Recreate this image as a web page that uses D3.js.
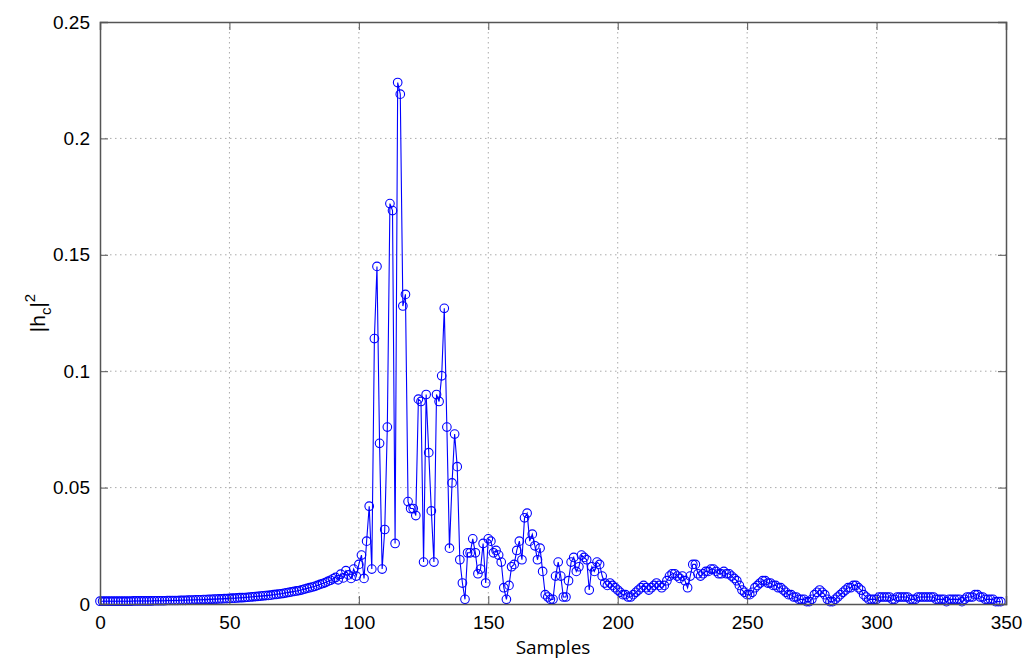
<!DOCTYPE html>
<html><head><meta charset="utf-8">
<script src="https://cdn.jsdelivr.net/npm/d3@7"></script>
<style>body{margin:0;background:#fff}</style></head>
<body><svg id="c" width="1024" height="666"></svg>
<script>
const xTicks=[0,50,100,150,200,250,300,350];
const yTicks=[0,0.05,0.1,0.15,0.2,0.25];
const values=[.0012,
.0012,.0012,.0012,.0012,.0012,.0012,.0012,.0012,.0012,.0012,
.0012,.0012,.0013,.0013,.0013,.0013,.0013,.0013,.0013,.0013,
.0014,.0014,.0014,.0014,.0014,.0015,.0015,.0015,.0015,.0015,
.0016,.0016,.0016,.0017,.0017,.0017,.0018,.0018,.0018,.0019,
.0019,.0020,.0020,.0021,.0021,.0022,.0022,.0023,.0023,.0024,
.0025,.0025,.0026,.0027,.0027,.0028,.0029,.0030,.0031,.0032,
.0033,.0034,.0035,.0036,.0037,.0038,.0040,.0041,.0043,.0044,
.0046,.0048,.0050,.0052,.0054,.0056,.0058,.0061,.0064,.0067,
.0070,.0073,.0076,.0080,.0084,.0088,.0092,.0097,.0102,.0108,
.0114,.0104,.0128,.0112,.0143,.0125,.0110,.0150,.0120,.0170,
.021,.011,.027,.042,.015,.114,.145,.069,.015,.032,
.076,.172,.169,.026,.224,.219,.128,.133,.044,.041,
.041,.038,.088,.087,.018,.090,.065,.040,.018,.090,
.087,.098,.127,.076,.024,.052,.073,.059,.019,.009,
.002,.022,.022,.028,.022,.013,.015,.026,.009,.028,
.027,.022,.023,.021,.018,.007,.002,.008,.016,.017,
.023,.027,.019,.037,.039,.027,.030,.025,.019,.024,
.014,.004,.003,.002,.002,.012,.018,.012,.003,.003,
.010,.018,.020,.014,.016,.021,.020,.019,.006,.016,
.014,.018,.017,.012,.009,.008,.009,.008,.007,.006,
.005,.004,.004,.003,.003,.004,.005,.006,.007,.008,
.007,.006,.007,.008,.009,.008,.007,.008,.010,.012,
.013,.013,.012,.011,.012,.010,.007,.012,.017,.017,
.013,.012,.013,.014,.014,.015,.015,.014,.013,.013,
.014,.013,.013,.012,.011,.010,.008,.006,.005,.004,
.004,.005,.007,.008,.009,.010,.010,.009,.009,.008,
.008,.007,.007,.006,.005,.004,.004,.003,.003,.002,
.002,.002,.001,.001,.002,.004,.005,.006,.005,.004,
.002,.001,.001,.002,.003,.004,.005,.006,.007,.007,
.008,.008,.007,.006,.004,.003,.002,.002,.002,.002,
.003,.003,.003,.003,.003,.002,.002,.003,.003,.003,
.003,.003,.002,.002,.002,.003,.003,.003,.003,.003,
.003,.003,.002,.002,.002,.002,.001,.002,.002,.002,
.002,.002,.001,.002,.003,.003,.003,.004,.004,.003,
.003,.002,.002,.002,.002,.001,.001,.001];
const L=100,R=1006,T=22,B=604;
const svg=d3.select("#c");
const x=d3.scaleLinear().domain([0,350]).range([L,R]);
const y=d3.scaleLinear().domain([0,0.25]).range([B,T]);
const font="Liberation Sans, Arial, sans-serif";
svg.append("g").selectAll("line").data(xTicks.slice(1,-1)).join("line")
 .attr("x1",d=>x(d)).attr("x2",d=>x(d)).attr("y1",T).attr("y2",B)
 .attr("stroke","#aaa").attr("stroke-dasharray","1.5,3.5");
svg.append("g").selectAll("line").data(yTicks.slice(1,-1)).join("line")
 .attr("y1",d=>y(d)).attr("y2",d=>y(d)).attr("x1",L).attr("x2",R)
 .attr("stroke","#aaa").attr("stroke-dasharray","1.5,3.5");
svg.append("path").datum(values).attr("fill","none").attr("stroke","#0000ff").attr("stroke-width",1.1)
 .attr("d",d3.line().x((d,i)=>x(i)).y(d=>y(d)));
svg.append("g").selectAll("circle").data(values).join("circle")
 .attr("cx",(d,i)=>x(i)).attr("cy",d=>y(d)).attr("r",4.3)
 .attr("fill","none").attr("stroke","#0000ff").attr("stroke-width",1.1);
const xa=svg.append("g").attr("transform",`translate(0,${B})`).call(d3.axisBottom(x).tickValues(xTicks).tickSize(-8).tickPadding(12));
const xa2=svg.append("g").attr("transform",`translate(0,${T})`).call(d3.axisTop(x).tickValues(xTicks).tickSize(-8).tickFormat(""));
const ya=svg.append("g").attr("transform",`translate(${L},0)`).call(d3.axisLeft(y).tickValues(yTicks).tickSize(-8).tickPadding(10).tickFormat(d=>d===0?"0":String(d)));
const ya2=svg.append("g").attr("transform",`translate(${R},0)`).call(d3.axisRight(y).tickValues(yTicks).tickSize(-8).tickFormat(""));
[xa,xa2,ya,ya2].forEach(g=>{g.select(".domain").attr("stroke","#555").attr("stroke-width",1.5);
 g.selectAll(".tick line").attr("stroke","#555");
 g.selectAll("text").attr("font-size",19).attr("font-family",font).attr("fill","#000");});
svg.append("text").attr("x",(L+R)/2).attr("y",654).attr("text-anchor","middle")
 .attr("font-family","Open Sans, sans-serif").attr("font-size",19).text("Samples");
const yl=svg.append("text").attr("transform",`translate(45,${(T+B)/2}) rotate(-90)`).attr("text-anchor","middle")
 .attr("font-family",font).attr("font-size",21);
yl.append("tspan").text("|h");
yl.append("tspan").attr("font-size",15).attr("dy",6).text("c");
yl.append("tspan").attr("dy",-6).text("|");
yl.append("tspan").attr("font-size",15).attr("dy",-10).text("2");
</script></body></html>
